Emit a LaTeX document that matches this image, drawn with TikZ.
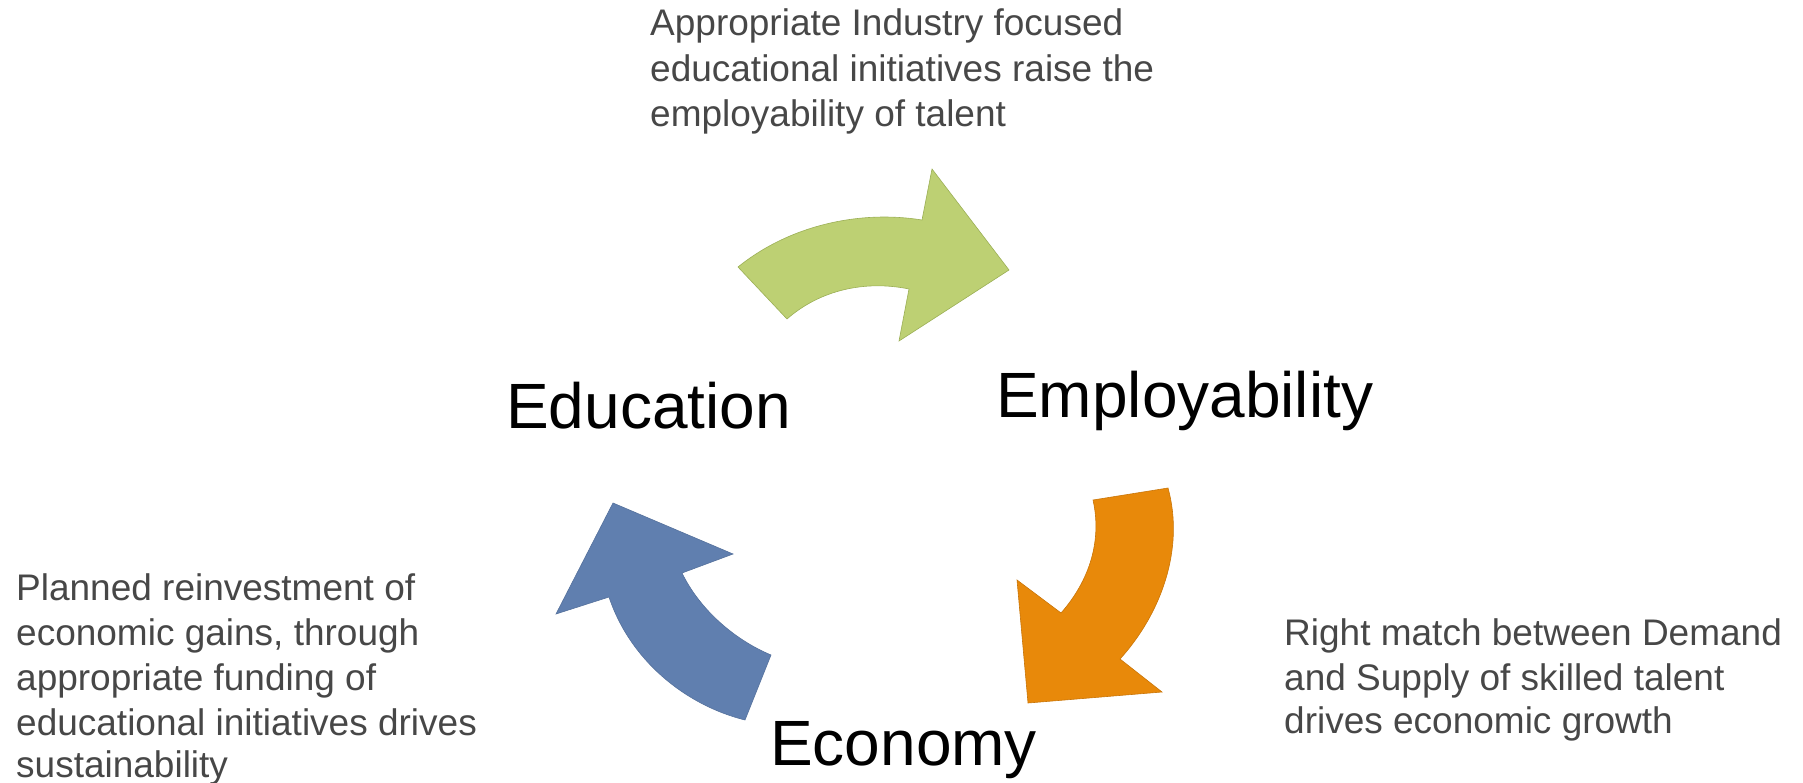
\documentclass[tikz,border=0pt]{standalone}
\usepackage{fontspec}
\setmainfont{Liberation Sans}
\definecolor{greenA}{HTML}{BDD073}
\definecolor{greenL}{HTML}{9BAF55}
\definecolor{orangeA}{HTML}{E8890A}
\definecolor{orangeL}{HTML}{C97508}
\definecolor{blueA}{HTML}{607FAF}
\definecolor{blueL}{HTML}{55719C}
\definecolor{descgrey}{HTML}{474747}
\begin{document}
\begin{tikzpicture}[x=1pt,y=-1pt,
  biglabel/.style={anchor=base west,inner sep=0pt,font=\fontsize{64}{75}\selectfont,text=black},
  desc/.style={anchor=base west,inner sep=0pt,font=\fontsize{37}{45}\selectfont,text=descgrey},
  arrowshape/.style={line width=0.6pt,line join=miter}]
\useasboundingbox (0,0) rectangle (1803,783);

% green arrow: Education -> Employability
\filldraw[arrowshape,fill=greenA,draw=greenL]
  (738,267) .. controls (790,225) and (860,210) .. (922,220)
  -- (932,169) -- (1009,270) -- (899,341) -- (909,289)
  .. controls (865,280) and (820,290) .. (787,319) -- cycle;

% orange arrow: Employability -> Economy
\filldraw[arrowshape,fill=orangeA,draw=orangeL]
  (1168,488) -- (1093,500)
  .. controls (1102,540) and (1090,580) .. (1061,613)
  -- (1017,580) -- (1028,703) -- (1162,692) -- (1120,659)
  .. controls (1160,615) and (1185,550) .. (1168,488) -- cycle;

% blue arrow: Economy -> Education
\filldraw[arrowshape,fill=blueA,draw=blueL]
  (745,720) -- (771,655)
  .. controls (735,640) and (700,610) .. (682,573)
  -- (733,554) -- (613,503) -- (556,614) -- (609,597)
  .. controls (630,660) and (685,705) .. (745,720) -- cycle;

% main labels
\node[biglabel] (edu) at (506,428) {Education};
\node[biglabel] (emp) at (996,417) {Employability};
\node[biglabel] (eco) at (770,765) {Economy};

% top description
\node[desc] (t1) at (650,36) {Appropriate Industry focused};
\node[desc] (t2) at (650,81.5) {educational initiatives raise the};
\node[desc] (t3) at (650,127) {employability of talent};

% left description
\node[desc] (l1) at (16,600) {Planned reinvestment of};
\node[desc] (l2) at (16,645) {economic gains, through};
\node[desc] (l3) at (16,690) {appropriate funding of};
\node[desc] (l4) at (16,735) {educational initiatives drives};
\node[desc] (l5) at (16,777) {sustainability};

% right description
\node[desc] (r1) at (1284,645) {Right match between Demand};
\node[desc] (r2) at (1284,690) {and Supply of skilled talent};
\node[desc] (r3) at (1284,733) {drives economic growth};
\end{tikzpicture}
\end{document}
